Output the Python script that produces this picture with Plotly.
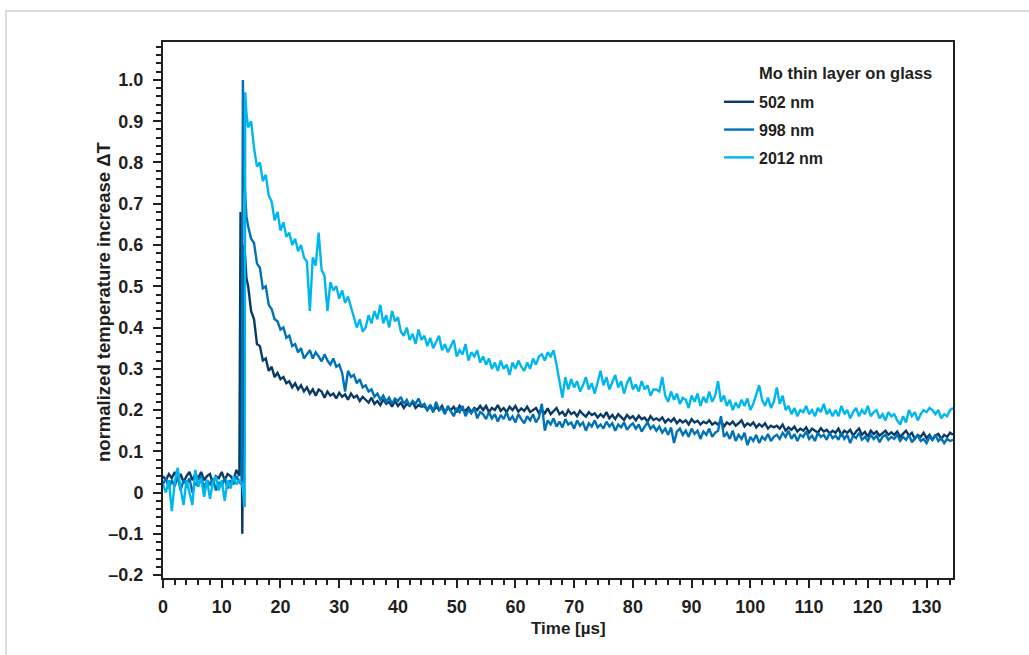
import plotly.graph_objects as go

# ---------------- data ----------------
# regular sampling grids (µs)
t_base = [i * 0.5 for i in range(27)]            # 0 .. 13.0
t_decay = [14.5 + i * 0.5 for i in range(241)]   # 14.5 .. 134.5

# --- 502 nm ---
base_502 = [0.04, 0.03, 0.045, 0.035, 0.05, 0.03, 0.045, 0.025, 0.04, 0.05, 0.03, 0.045, 0.035, 0.05,
            0.03, 0.04, 0.045, 0.02, 0.04, 0.035, 0.05, 0.03, 0.045, 0.04, 0.03, 0.055, 0.04]
pulse_t_502 = [13.2, 13.5, 13.8, 14.0, 14.2]
pulse_502 = [0.68, -0.10, 0.60, 0.57, 0.52]
decay_502 = [
    0.50, 0.44, 0.42, 0.36, 0.355, 0.32, 0.325, 0.295, 0.305, 0.28, 0.29, 0.275, 0.28, 0.265, 0.27, 0.255, 0.265, 0.25, 0.26, 0.245,
    0.255, 0.24, 0.25, 0.235, 0.25, 0.245, 0.23, 0.245, 0.235, 0.24, 0.228, 0.242, 0.232, 0.238, 0.225, 0.24, 0.23, 0.235, 0.222, 0.232,
    0.225, 0.218, 0.23, 0.215, 0.222, 0.212, 0.226, 0.215, 0.22, 0.208, 0.222, 0.21, 0.218, 0.205, 0.215, 0.21, 0.22, 0.205, 0.212, 0.208,
    0.21, 0.2, 0.212, 0.198, 0.208, 0.2, 0.21, 0.195, 0.205, 0.2, 0.208, 0.195, 0.21, 0.2, 0.198, 0.206, 0.195, 0.205, 0.2, 0.21,
    0.2, 0.21, 0.195, 0.205, 0.2, 0.212, 0.198, 0.205, 0.195, 0.208, 0.2, 0.21, 0.196, 0.204, 0.198, 0.208, 0.195, 0.2, 0.205, 0.193,
    0.2, 0.192, 0.204, 0.19, 0.198, 0.205, 0.19, 0.196, 0.185, 0.2, 0.19, 0.195, 0.185, 0.198, 0.19, 0.184, 0.195, 0.188, 0.192, 0.182,
    0.19, 0.183, 0.195, 0.18, 0.188, 0.178, 0.19, 0.182, 0.176, 0.188, 0.18, 0.185, 0.175, 0.186, 0.178, 0.182, 0.172, 0.185, 0.176, 0.18,
    0.175, 0.182, 0.17, 0.178, 0.172, 0.18, 0.168, 0.176, 0.17, 0.175, 0.165, 0.178, 0.17, 0.174, 0.165, 0.172, 0.168, 0.175, 0.165, 0.17,
    0.165, 0.175, 0.16, 0.17, 0.165, 0.172, 0.162, 0.168, 0.175, 0.16, 0.168, 0.163, 0.17, 0.158, 0.166, 0.16, 0.168, 0.155, 0.162, 0.158,
    0.162, 0.155, 0.165, 0.15, 0.158, 0.152, 0.16, 0.148, 0.155, 0.15, 0.158, 0.145, 0.155, 0.15, 0.145, 0.156, 0.148, 0.152, 0.143, 0.15,
    0.145, 0.155, 0.14, 0.15, 0.145, 0.152, 0.138, 0.148, 0.155, 0.14, 0.147, 0.135, 0.15, 0.142, 0.148, 0.138, 0.145, 0.15, 0.14, 0.146,
    0.14, 0.148, 0.135, 0.142, 0.15, 0.138, 0.145, 0.13, 0.14, 0.135, 0.145, 0.132, 0.14, 0.128, 0.138, 0.142, 0.13, 0.14, 0.135, 0.145,
    0.14]

# --- 998 nm ---
base_998 = [0.02, 0.035, 0.01, 0.03, 0.015, 0.04, 0.005, 0.03, 0.02, 0.035, 0.0, 0.025, 0.015, 0.04,
            0.01, 0.03, 0.02, 0.035, 0.005, 0.025, 0.015, 0.035, 0.01, 0.03, 0.02, 0.04, 0.025]
pulse_t_998 = [13.4, 13.6, 13.8, 14.0, 14.2]
pulse_998 = [0.02, 1.00, 0.78, 0.72, 0.67]
decay_998 = [
    0.645, 0.615, 0.605, 0.555, 0.545, 0.495, 0.5, 0.455, 0.445, 0.42, 0.415, 0.395, 0.4, 0.375, 0.38, 0.355, 0.36, 0.34, 0.35, 0.325,
    0.335, 0.345, 0.325, 0.34, 0.33, 0.318, 0.335, 0.32, 0.31, 0.325, 0.305, 0.31, 0.29, 0.245, 0.295, 0.28, 0.285, 0.265, 0.275, 0.255,
    0.26, 0.245, 0.25, 0.232, 0.24, 0.225, 0.235, 0.22, 0.23, 0.215, 0.228, 0.222, 0.232, 0.215, 0.225, 0.21, 0.222, 0.215, 0.228, 0.21,
    0.215, 0.2, 0.21, 0.195, 0.22, 0.2, 0.205, 0.19, 0.21, 0.198, 0.185, 0.205, 0.195, 0.21, 0.185, 0.2, 0.192, 0.205, 0.18, 0.195,
    0.19, 0.178, 0.195, 0.18, 0.19, 0.172, 0.188, 0.178, 0.195, 0.175, 0.185, 0.17, 0.19, 0.178, 0.168, 0.185, 0.175, 0.19, 0.17, 0.182,
    0.215, 0.15, 0.175, 0.165, 0.18, 0.16, 0.172, 0.158, 0.178, 0.165, 0.17, 0.155, 0.175, 0.162, 0.17, 0.15, 0.168, 0.16, 0.175, 0.158,
    0.165, 0.155, 0.172, 0.16, 0.168, 0.15, 0.165, 0.158, 0.17, 0.152, 0.162, 0.168, 0.155, 0.165, 0.148, 0.16, 0.17, 0.155, 0.162, 0.15,
    0.16, 0.145, 0.155, 0.14, 0.158, 0.12, 0.148, 0.155, 0.14, 0.15, 0.135, 0.155, 0.142, 0.15, 0.13, 0.148, 0.14, 0.155, 0.135, 0.145,
    0.15, 0.185, 0.135, 0.145, 0.13, 0.15, 0.125, 0.14, 0.13, 0.145, 0.115, 0.135, 0.125, 0.14, 0.12, 0.135, 0.128, 0.142, 0.125, 0.135,
    0.14, 0.13, 0.145, 0.135, 0.15, 0.13, 0.142, 0.125, 0.14, 0.135, 0.148, 0.13, 0.138, 0.125, 0.145, 0.135, 0.14, 0.128, 0.145, 0.132,
    0.138, 0.128, 0.145, 0.13, 0.14, 0.12, 0.138, 0.132, 0.145, 0.128, 0.135, 0.125, 0.14, 0.13, 0.138, 0.122, 0.135, 0.14, 0.128, 0.135,
    0.13, 0.14, 0.125, 0.135, 0.128, 0.14, 0.122, 0.132, 0.138, 0.125, 0.13, 0.12, 0.135, 0.128, 0.14, 0.125, 0.132, 0.12, 0.13, 0.125,
    0.128]

# --- 2012 nm ---
base_2012 = [0.02, 0.0, 0.03, -0.045, 0.025, 0.06, 0.01, -0.03, 0.03, 0.0, -0.03, 0.055, 0.015, 0.035,
             -0.01, 0.03, -0.015, 0.025, 0.04, 0.005, 0.03, -0.02, 0.03, 0.01, 0.04, 0.02, 0.03]
pulse_t_2012 = [13.5, 13.9, 14.0, 14.2]
pulse_2012 = [0.02, -0.035, 0.97, 0.92]
decay_2012 = [
    0.885, 0.9, 0.835, 0.79, 0.8, 0.755, 0.77, 0.72, 0.705, 0.66, 0.68, 0.635, 0.655, 0.62, 0.63, 0.6, 0.615, 0.585, 0.6, 0.57,
    0.56, 0.44, 0.57, 0.55, 0.63, 0.54, 0.525, 0.44, 0.51, 0.49, 0.5, 0.47, 0.49, 0.46, 0.475, 0.45, 0.43, 0.4, 0.42, 0.39,
    0.4, 0.43, 0.41, 0.44, 0.42, 0.455, 0.41, 0.43, 0.4, 0.44, 0.415, 0.425, 0.39, 0.38, 0.4, 0.37, 0.385, 0.36, 0.395, 0.37,
    0.38, 0.355, 0.375, 0.35, 0.365, 0.38, 0.345, 0.36, 0.34, 0.355, 0.37, 0.33, 0.345, 0.335, 0.36, 0.32, 0.34, 0.33, 0.345, 0.315,
    0.33, 0.31, 0.325, 0.3, 0.315, 0.295, 0.32, 0.3, 0.31, 0.285, 0.315, 0.3, 0.32, 0.305, 0.295, 0.315, 0.3, 0.325, 0.31, 0.33,
    0.335, 0.32, 0.34, 0.33, 0.345, 0.31, 0.27, 0.23, 0.28, 0.25, 0.275, 0.255, 0.27, 0.245, 0.26, 0.28, 0.25, 0.265, 0.24, 0.27,
    0.295, 0.26, 0.28, 0.25, 0.27, 0.285, 0.255, 0.27, 0.24, 0.265, 0.28, 0.25, 0.262, 0.245, 0.27, 0.25, 0.26, 0.235, 0.25, 0.25,
    0.245, 0.28, 0.235, 0.22, 0.245, 0.225, 0.24, 0.215, 0.23, 0.225, 0.205, 0.235, 0.22, 0.24, 0.21, 0.232, 0.218, 0.245, 0.22, 0.235,
    0.27, 0.22, 0.235, 0.21, 0.225, 0.2, 0.218, 0.205, 0.225, 0.21, 0.228, 0.2, 0.215, 0.24, 0.26, 0.225, 0.21, 0.23, 0.205, 0.22,
    0.255, 0.215, 0.235, 0.2, 0.21, 0.19, 0.205, 0.185, 0.2, 0.195, 0.21, 0.19, 0.2, 0.185, 0.205, 0.195, 0.215, 0.19, 0.2, 0.185,
    0.2, 0.185, 0.21, 0.19, 0.2, 0.18, 0.195, 0.205, 0.185, 0.2, 0.19, 0.21, 0.185, 0.195, 0.2, 0.18, 0.19, 0.175, 0.195, 0.185,
    0.19, 0.175, 0.165, 0.185, 0.17, 0.2, 0.185, 0.195, 0.175, 0.19, 0.2, 0.195, 0.205, 0.2, 0.19, 0.2, 0.18, 0.19, 0.185, 0.2,
    0.205]

series_names = ["502 nm", "998 nm", "2012 nm"]
series_colors = ["#0a3a66", "#0072b8", "#00b6ee"]

x_ticks = list(range(0, 131, 10))
y_ticks = [-0.2, -0.1, 0, 0.1, 0.2, 0.3, 0.4, 0.5, 0.6, 0.7, 0.8, 0.9, 1.0]
y_labels = ["\u20130.2", "\u20130.1", "0", "0.1", "0.2", "0.3", "0.4", "0.5", "0.6", "0.7", "0.8", "0.9", "1.0"]

legend_title = "Mo thin layer on glass"
x_title = "Time [µs]"
y_title = "normalized temperature increase \u0394T"

# ---------------- figure ----------------
FONT = "Liberation Sans, Arial, Helvetica, sans-serif"
INK = "#231f20"

fig = go.Figure()
data = [
    (base_502, pulse_t_502, pulse_502, decay_502),
    (base_998, pulse_t_998, pulse_998, decay_998),
    (base_2012, pulse_t_2012, pulse_2012, decay_2012),
]
for (b, pt, pv, d), name, col in zip(data, series_names, series_colors):
    fig.add_trace(go.Scatter(
        x=t_base + pt + t_decay,
        y=b + pv + d,
        mode="lines",
        name=name,
        legendgroup=name,
        line=dict(color=col, width=2.4),
    ))

fig.update_layout(
    width=1029, height=655,
    margin=dict(l=163, r=76, t=42, b=77),
    paper_bgcolor="white", plot_bgcolor="white",
    font=dict(family=FONT, size=17, color=INK, weight="bold"),
    showlegend=True,
    legend=dict(
        x=0.7038, y=0.92, xanchor="left", yanchor="top",
        bgcolor="rgba(0,0,0,0)", borderwidth=0,
        font=dict(family=FONT, size=16, color=INK, weight="bold"),
        tracegroupgap=4,
    ),
    annotations=[
        dict(text=legend_title, xref="paper", yref="paper", x=0.752, y=0.942,
             xanchor="left", yanchor="middle", showarrow=False,
             font=dict(family=FONT, size=16.5, color=INK, weight="bold")),
        dict(text=x_title, xref="paper", yref="paper", x=0.5127, y=-0.0933,
             xanchor="center", yanchor="middle", showarrow=False,
             font=dict(family=FONT, size=17, color=INK, weight="bold")),
        dict(text=y_title, xref="paper", yref="paper", x=-0.0747, y=0.515,
             xanchor="center", yanchor="middle", showarrow=False, textangle=-90,
             font=dict(family=FONT, size=18.5, color=INK, weight="bold")),
    ],
    shapes=[
        dict(type="rect", xref="paper", yref="paper", x0=-0.1987, x1=1.3, y0=-0.4, y1=1.0578,
             line=dict(color="#dcdcdc", width=2), fillcolor="rgba(0,0,0,0)", layer="below"),
    ],
)

fig.update_xaxes(
    range=[0, 134.5], tickmode="array", tickvals=x_ticks,
    ticks="outside", ticklen=8, tickwidth=2, tickcolor=INK,
    showline=True, linewidth=2, linecolor=INK, mirror=True,
    showgrid=False, zeroline=False, ticklabelstandoff=3,
    minor=dict(tickmode="linear", tick0=0, dtick=2, ticks="outside", ticklen=5, tickwidth=2, tickcolor=INK),
    tickfont=dict(family=FONT, size=18, color=INK, weight="bold"),
)
fig.update_yaxes(
    range=[-0.207, 1.092], tickmode="array", tickvals=y_ticks, ticktext=y_labels,
    ticks="outside", ticklen=8, tickwidth=2, tickcolor=INK,
    showline=True, linewidth=2, linecolor=INK, mirror=True,
    showgrid=False, zeroline=False, ticklabelstandoff=6,
    minor=dict(tickmode="linear", tick0=0, dtick=0.02, ticks="outside", ticklen=5, tickwidth=2, tickcolor=INK),
    tickfont=dict(family=FONT, size=18, color=INK, weight="bold"),
)

fig.write_html(
    "out.html",
    config={"displayModeBar": False},
    post_script="document.body.style.margin='0';document.body.style.overflow='hidden';",
)
